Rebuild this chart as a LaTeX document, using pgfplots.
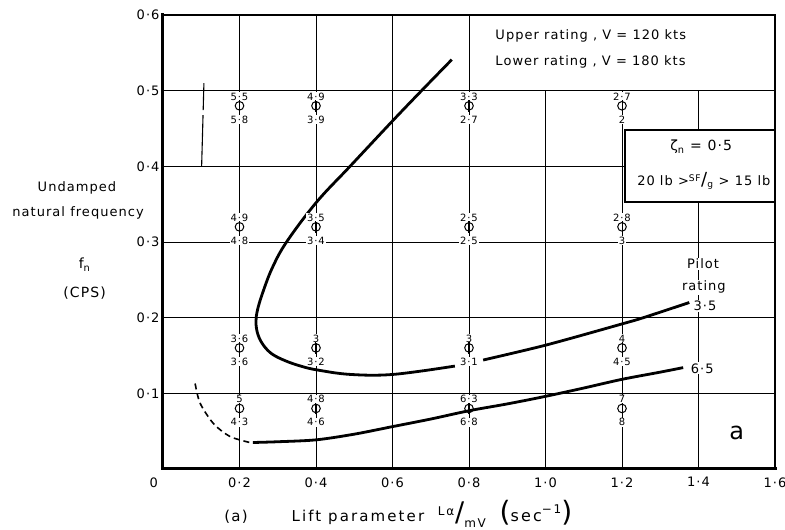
\documentclass[border=0pt]{standalone}
\usepackage{fontspec}
\setmainfont{DejaVu Sans}[LetterSpace=8]
\usepackage{pgfplots}
\pgfplotsset{compat=1.18}
\usepackage{pgfplotstable}

\newcommand{\fs}[1]{\fontsize{#1}{#1}\selectfont}

\pgfdeclareplotmark{phi}{%
  \pgfpathcircle{\pgfpointorigin}{\pgfplotmarksize}%
  \pgfusepathqstroke
  \pgfpathmoveto{\pgfqpoint{0pt}{-1.35\pgfplotmarksize}}%
  \pgfpathlineto{\pgfqpoint{0pt}{1.35\pgfplotmarksize}}%
  \pgfusepathqstroke}

\pgfplotstableread{
x   y    up   lo
0.2 0.48 5·5  5·8
0.4 0.48 4·9  3·9
0.8 0.48 3·3  2·7
1.2 0.48 2·7  2
0.2 0.32 4·9  4·8
0.4 0.32 3·5  3·4
0.8 0.32 2·5  2·5
1.2 0.32 2·8  3
0.2 0.16 3·6  3·6
0.4 0.16 3    3·2
0.8 0.16 3    3·1
1.2 0.16 4    4·5
0.2 0.08 5    4·3
0.4 0.08 4·8  4·6
0.8 0.08 6·3  6·8
1.2 0.08 7    8
}\ratings

\begin{document}
\begin{tikzpicture}
\begin{axis}[
  width=612pt, height=454pt, scale only axis,
  xmin=0, xmax=1.6, ymin=0, ymax=0.6,
  clip=false,
  axis line style={line width=1.3pt},
  xtick={0,0.2,0.4,0.6,0.8,1.0,1.2,1.4,1.6},
  xticklabels={{\llap{0\kern5pt}},0·2,0·4,0·6,0·8,1·0,1·2,1·4,1·6},
  ytick={0.1,0.2,0.3,0.4,0.5,0.6},
  yticklabels={0·1,0·2,0·3,0·4,0·5,0·6},
  grid=major,
  major grid style={black, line width=0.8pt},
  major tick length=0pt,
  tick label style={font=\fs{13}},
  xticklabel style={yshift=-5pt},
]
% boxes
\draw[fill=white, line width=0.8pt] (axis cs:0.8,0.5) rectangle (axis cs:1.6,0.6);
\draw[fill=white, line width=2.6pt] (axis cs:1.208,0.353) rectangle (axis cs:1.6,0.448);

% dashed vertical line
\addplot[black, line width=1.1pt, dash pattern=on 27pt off 5pt on 80pt off 5pt] coordinates {(0.107,0.51) (0.101,0.4)};

% rating labels
\addplot[draw=none, mark=none, nodes near coords, point meta=explicit symbolic,
  nodes near coords style={anchor=south, font=\fs{10}, fill=white, inner sep=0.8pt, yshift=4.5pt}]
  table[x=x, y=y, meta=up] {\ratings};
\addplot[draw=none, mark=none, nodes near coords, point meta=explicit symbolic,
  nodes near coords style={anchor=north, font=\fs{10}, fill=white, inner sep=0.8pt, yshift=-9pt}]
  table[x=x, y=y, meta=lo] {\ratings};

% pilot rating 3.5 curve (upper), in two pieces
\addplot[black, line width=2.8pt, smooth, tension=0.6] coordinates {
 (0.755,0.541) (0.676,0.500) (0.602,0.461) (0.489,0.400) (0.402,0.353)
 (0.323,0.300) (0.285,0.265) (0.260,0.232) (0.247,0.210) (0.243,0.194)
 (0.248,0.178) (0.262,0.164) (0.285,0.152) (0.320,0.143) (0.360,0.136)
 (0.402,0.131) (0.489,0.125) (0.602,0.125) (0.763,0.136)};
\addplot[black, line width=2.8pt, smooth, tension=0.5] coordinates {
 (0.837,0.144) (1.003,0.164) (1.202,0.192) (1.256,0.200) (1.376,0.220)};

% pilot rating 6.5 curve (lower)
\addplot[black, line width=1.6pt, smooth, dash pattern=on 6pt off 4pt] coordinates {
 (0.084,0.113) (0.097,0.087) (0.132,0.060) (0.175,0.043) (0.227,0.035)};
\addplot[black, line width=2.8pt, smooth, tension=0.5] coordinates {
 (0.235,0.035) (0.300,0.036) (0.400,0.0385) (0.500,0.046) (0.600,0.056)
 (0.700,0.066) (0.800,0.077) (0.900,0.086) (1.000,0.096) (1.100,0.107)
 (1.200,0.1185) (1.300,0.128) (1.360,0.134)};

% test points
\addplot[only marks, mark=phi, mark size=4.3pt, mark options={line width=1pt, black}] table[x=x, y=y] {\ratings};

% texts
\node[anchor=west, font=\fs{13}] at (axis cs:0.860,0.572) {Upper rating , V = 120 kts};
\node[anchor=west, font=\fs{13}] at (axis cs:0.860,0.538) {Lower rating , V = 180 kts};
\node[font=\fs{14}] at (axis cs:1.407,0.4255) {ζ\textsubscript{n} = 0·5};
\node[font=\fs{13}] at (axis cs:1.414,0.3806) {20 lb >\textsuperscript{SF}{\fs{18}/}\textsubscript{g} > 15 lb};
\node[font=\fs{13}, fill=white, inner sep=1pt] at (axis cs:1.412,0.271) {Pilot};
\node[font=\fs{13}, fill=white, inner sep=1pt] at (axis cs:1.414,0.240) {rating};
\node[font=\fs{13}, fill=white, inner sep=1pt] at (axis cs:1.417,0.2154) {3·5};
\node[font=\fs{13}, fill=white, inner sep=1pt] at (axis cs:1.410,0.133) {6·5};
\node[font=\fs{24}] at (axis cs:1.5,0.048) {a};

\node[font=\fs{13}] at (axis cs:-0.225,0.371) {Undamped};
\node[font=\fs{13}] at (axis cs:-0.222,0.338) {natural frequency};
\node[font=\fs{14}] at (axis cs:-0.205,0.270) {f\textsubscript{n}};
\node[font=\fs{14}] at (axis cs:-0.205,0.2326) {(CPS)};

\node[anchor=base, font=\fs{15}] at (axis cs:0.191,-0.0695) {(a)};
\node[anchor=base west, font=\fs{15}\addfontfeature{LetterSpace=14}] at (axis cs:0.327,-0.0695)
  {Lift parameter\ \ \raisebox{6pt}{\fs{12}Lα}\kern1pt{\fs{27}/}\raisebox{-6pt}{\fs{12}mV}\ \ {\fs{28}(}{\fs{16}sec}\raisebox{8pt}{\fs{12}−1}{\fs{28})}};

% frame
\draw[line width=1.3pt] (rel axis cs:0,0) rectangle (rel axis cs:1,1);
\draw[line width=3pt, line cap=rect] (rel axis cs:0,1) -- (rel axis cs:0,0) -- (rel axis cs:1,0);
\end{axis}
\pgfresetboundingbox
\path[use as bounding box] ([xshift=-163pt,yshift=-61pt]current axis.south west) rectangle ([xshift=10pt,yshift=15pt]current axis.north east);
\end{tikzpicture}
\end{document}
